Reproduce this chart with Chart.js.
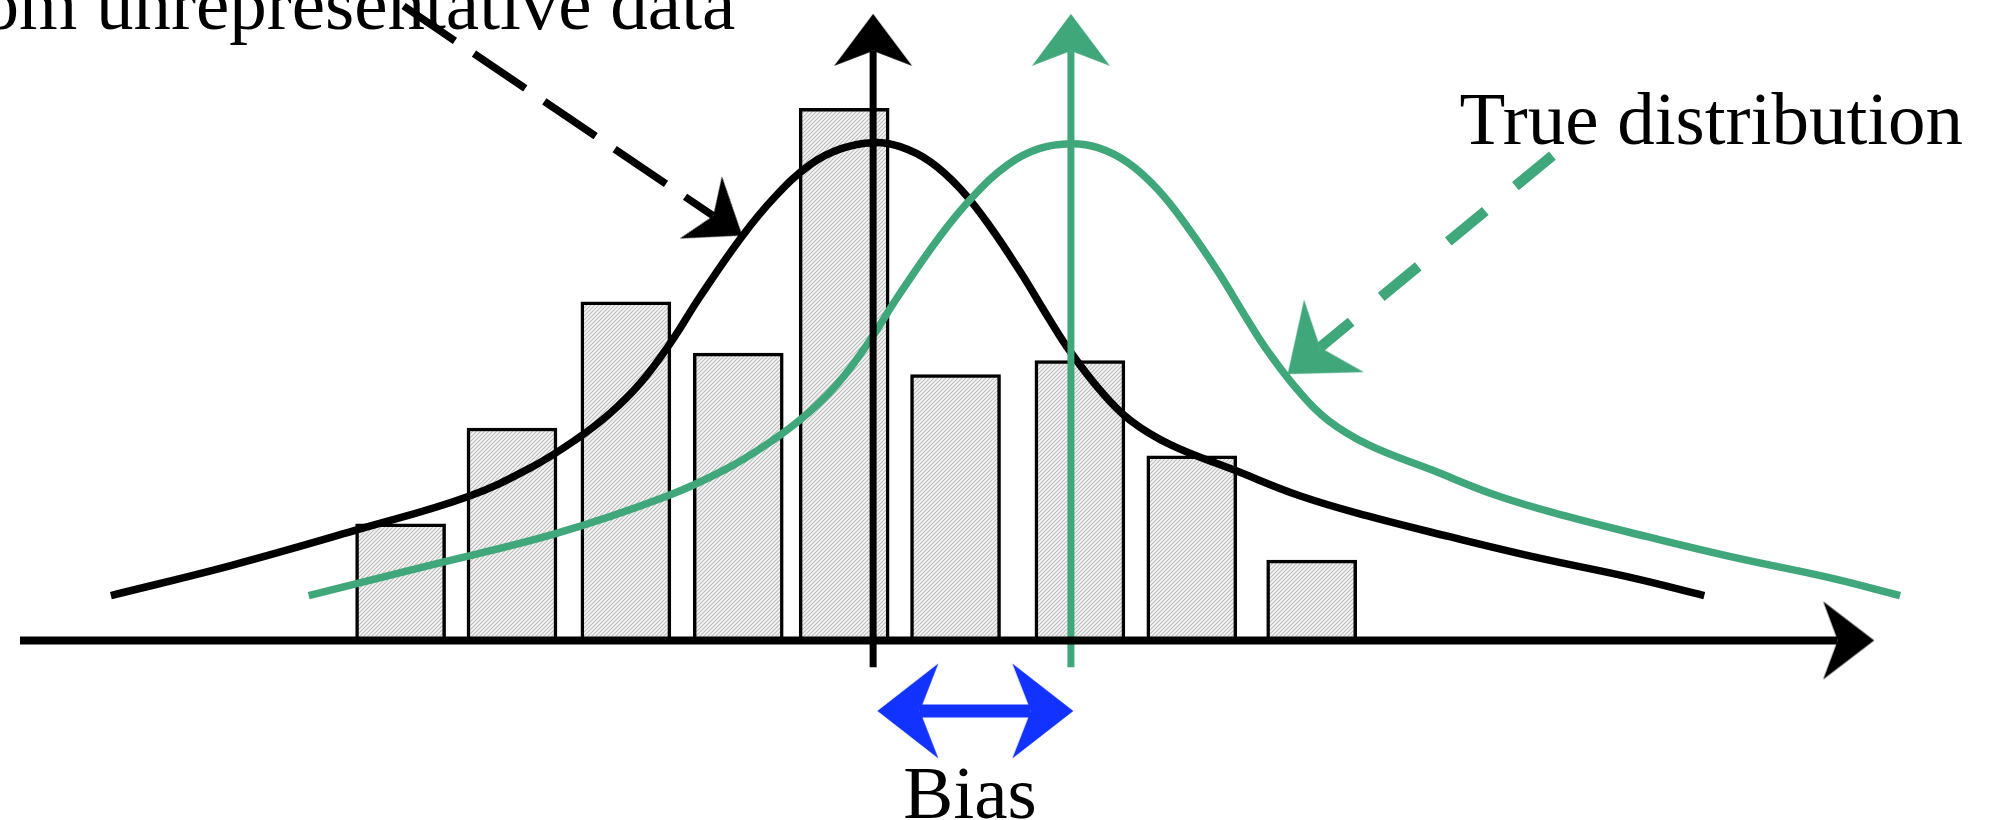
<!DOCTYPE html>
<html>
<head>
<meta charset="utf-8">
<title>Bias from unrepresentative data</title>
<script src="https://cdn.jsdelivr.net/npm/chart.js@4.4.1/dist/chart.umd.min.js"></script>
<style>
  html, body { margin: 0; padding: 0; background: #ffffff; overflow: hidden; }
  #wrap { position: relative; width: 1992px; height: 820px; }
  canvas { display: block; }
</style>
</head>
<body>
<div id="wrap"><canvas id="c" width="1992" height="820"></canvas></div>
<script>
// ---------------- DATA ----------------
// Histogram of the unrepresentative sample: bin centres and heights
const binCenters = [-4.73, -3.615, -2.475, -1.35, -0.29, 0.825, 2.07, 3.19, 4.39];
const binHeights = [2.34, 4.26, 6.79, 5.76, 10.67, 5.33, 5.61, 3.70, 1.61];

// Distribution estimated from the unrepresentative data (black curve)
const estCurveX = [-7.63, -6.43, -5.16, -4.06, -3.43, -2.98, -2.63, -2.33, -2.03, -1.73, -1.32, -0.98,
                   -0.63, -0.32, 0.00, 0.27, 0.57, 0.87, 1.17, 1.47, 1.77, 1.97, 2.27, 2.57,
                   2.98, 3.61, 4.27, 4.94, 5.77, 6.65, 7.59, 8.32];
const estCurveY = [0.90, 1.50, 2.22, 2.88, 3.46, 4.02, 4.56, 5.16, 5.96, 6.90, 8.08, 8.90,
                   9.54, 9.86, 9.98, 9.90, 9.60, 9.06, 8.30, 7.40, 6.42, 5.80, 5.02, 4.42,
                   3.92, 3.42, 2.90, 2.50, 2.08, 1.66, 1.26, 0.90];

// True distribution (green curve)
const trueCurveX = [-5.65, -4.45, -3.18, -2.08, -1.45, -1.00, -0.65, -0.35, -0.05, 0.25, 0.66, 1.00,
                    1.35, 1.66, 1.98, 2.25, 2.55, 2.85, 3.15, 3.45, 3.75, 3.95, 4.25, 4.55,
                    4.96, 5.59, 6.25, 6.92, 7.75, 8.63, 9.57, 10.28];
const trueCurveY = [0.90, 1.50, 2.14, 2.88, 3.46, 4.02, 4.56, 5.16, 5.96, 6.90, 8.08, 8.90,
                    9.54, 9.86, 9.96, 9.88, 9.58, 9.04, 8.28, 7.40, 6.42, 5.80, 5.02, 4.42,
                    3.92, 3.42, 2.90, 2.50, 2.08, 1.66, 1.26, 0.90];

// Means of the two distributions (vertical arrows)
const estMean = 0.00;
const trueMean = 1.98;

// Text labels
const labelTexts = ['Estimated from unrepresentative data', 'True distribution', 'Bias'];

// ---------------- LAYOUT / STYLE (not data) ----------------
const GREEN = '#40a77a';
const BLUE = '#1232ff';
const BLACK = '#000000';
const FONT = '75px "Liberation Serif", "Times New Roman", Times, serif';

const view = { xMin: -8.73, xMax: 11.19, yMin: -3.58, yMax: 12.82 };

// annotation geometry in data units
const axisLine   = { from: { x: -8.54, y: 0 }, to: { x: 9.655, y: 0 } };
const meanBottom = -0.54, meanTop = 11.82;
const estPointer  = { from: { x: -4.70, y: 12.72 }, to: { x: -1.60, y: 8.512 } };
const truePointer = { from: { x: 6.80, y: 9.72 }, to: { x: 4.474, y: 5.876 } };
const biasArrow   = { from: { x: 0.468, y: -1.414 }, to: { x: 1.578, y: -1.414 } };
const textPos = [
  { x: -1.38, y: 12.26, align: 'right' },
  { x: 5.87, y: 9.96, align: 'left' },
  { x: 0.97, y: -3.56, align: 'center' }
];

// stealth arrow-head image; notch sits at the image centre, tip points +x
function arrowHead(L, W, n, color) {
  const hw = Math.ceil(Math.max(n, L - n)) + 2;
  const hh = Math.ceil(W / 2) + 2;
  const c = document.createElement('canvas');
  c.width = hw * 2; c.height = hh * 2;
  const g = c.getContext('2d');
  g.translate(hw, hh);
  g.beginPath();
  g.moveTo(n, 0);
  g.lineTo(n - L, -W / 2);
  g.lineTo(0, 0);
  g.lineTo(n - L, W / 2);
  g.closePath();
  g.fillStyle = color;
  g.fill();
  return c;
}

function hatchPattern(mainCtx) {
  const t = document.createElement('canvas');
  t.width = 4; t.height = 4;
  const g = t.getContext('2d');
  g.fillStyle = '#f5f5f5';
  g.fillRect(0, 0, 4, 4);
  g.strokeStyle = '#bcbcbc';
  g.lineWidth = 1.1;
  g.beginPath();
  g.moveTo(-1, 5); g.lineTo(5, -1);
  g.moveTo(-1, 1); g.lineTo(1, -1);
  g.moveTo(3, 5); g.lineTo(5, 3);
  g.stroke();
  return mainCtx.createPattern(t, 'repeat');
}

function pixelAngle(chart, a, b) {
  const xs = chart.scales.x, ys = chart.scales.y;
  return Math.atan2(ys.getPixelForValue(b.y) - ys.getPixelForValue(a.y),
                    xs.getPixelForValue(b.x) - xs.getPixelForValue(a.x)) * 180 / Math.PI;
}

// line dataset with arrow head(s) drawn as point images
function arrowDataset(pts, o) {
  const head = arrowHead(o.L, o.W, o.n, o.color);
  const last = pts.length - 1;
  const hasHead = (i) => i === last || (o.both && i === 0);
  return {
    type: 'line',
    data: pts,
    borderColor: o.color,
    borderWidth: o.width,
    borderDash: o.dash || [],
    borderCapStyle: 'butt',
    fill: false,
    tension: 0,
    order: o.order,
    pointStyle: head,
    pointRadius: (c) => hasHead(c.dataIndex) ? 1 : 0,
    pointHoverRadius: (c) => hasHead(c.dataIndex) ? 1 : 0,
    pointHitRadius: 0,
    pointBorderWidth: 0,
    pointBackgroundColor: o.color,
    pointRotation: (c) => {
      const d = c.dataset.data;
      return c.dataIndex === 0 ? pixelAngle(c.chart, d[1], d[0]) : pixelAngle(c.chart, d[last - 1], d[last]);
    }
  };
}

const labelPlugin = {
  id: 'labelPlugin',
  beforeDatasetsDraw(chart) {
    const { ctx, scales: { x, y } } = chart;
    ctx.save();
    ctx.fillStyle = BLACK;
    ctx.font = FONT;
    ctx.textBaseline = 'alphabetic';
    labelTexts.forEach((t, i) => {
      const p = textPos[i];
      ctx.textAlign = p.align;
      ctx.fillText(t, x.getPixelForValue(p.x), y.getPixelForValue(p.y));
    });
    ctx.restore();
  }
};

function build() {
  const canvas = document.getElementById('c');
  const ctx = canvas.getContext('2d');

  const bars = {
    type: 'bar',
    data: binCenters.map((c, i) => ({ x: c, y: binHeights[i] })),
    backgroundColor: hatchPattern(ctx),
    borderColor: BLACK,
    borderWidth: 3.5,
    barThickness: 90,
    order: 10
  };
  const curve = (xs, ys, color, order) => ({
    type: 'line',
    data: xs.map((v, i) => ({ x: v, y: ys[i] })),
    borderColor: color,
    borderWidth: 7.5,
    borderCapStyle: 'butt',
    borderJoinStyle: 'round',
    tension: 0.4,
    fill: false,
    pointRadius: 0,
    pointHoverRadius: 0,
    order
  });

  const datasets = [
    bars,
    curve(estCurveX, estCurveY, BLACK, 8),
    curve(trueCurveX, trueCurveY, GREEN, 7),
    arrowDataset([{ x: estMean, y: meanBottom }, { x: estMean, y: meanTop }],
                 { L: 52, W: 78, n: 37, color: BLACK, width: 7, order: 6 }),
    arrowDataset([{ x: trueMean, y: meanBottom }, { x: trueMean, y: meanTop }],
                 { L: 52, W: 78, n: 37, color: GREEN, width: 7, order: 5 }),
    arrowDataset([axisLine.from, axisLine.to],
                 { L: 51, W: 78, n: 36.5, color: BLACK, width: 8, order: 4 }),
    arrowDataset([estPointer.from, estPointer.to],
                 { L: 50, W: 75, n: 35, color: BLACK, width: 7.5, dash: [62, 23], order: 3 }),
    arrowDataset([truePointer.from, truePointer.to],
                 { L: 60, W: 94, n: 42, color: GREEN, width: 10.5, dash: [48, 39], order: 3 }),
    arrowDataset([biasArrow.from, biasArrow.to],
                 { L: 61, W: 95, n: 42.5, color: BLUE, width: 13, both: true, order: 2 })
  ];

  new Chart(ctx, {
    type: 'bar',
    data: { datasets },
    options: {
      responsive: false,
      animation: false,
      events: [],
      layout: { padding: 0 },
      plugins: { legend: { display: false }, tooltip: { enabled: false }, title: { display: false } },
      scales: {
        x: { type: 'linear', display: false, min: view.xMin, max: view.xMax, offset: false, bounds: 'data', grid: { offset: false } },
        y: { type: 'linear', display: false, min: view.yMin, max: view.yMax, bounds: 'data', beginAtZero: false }
      }
    },
    plugins: [labelPlugin]
  });
}

if (document.fonts && document.fonts.load) {
  document.fonts.load(FONT).then(build, build);
} else {
  build();
}
</script>
</body>
</html>
